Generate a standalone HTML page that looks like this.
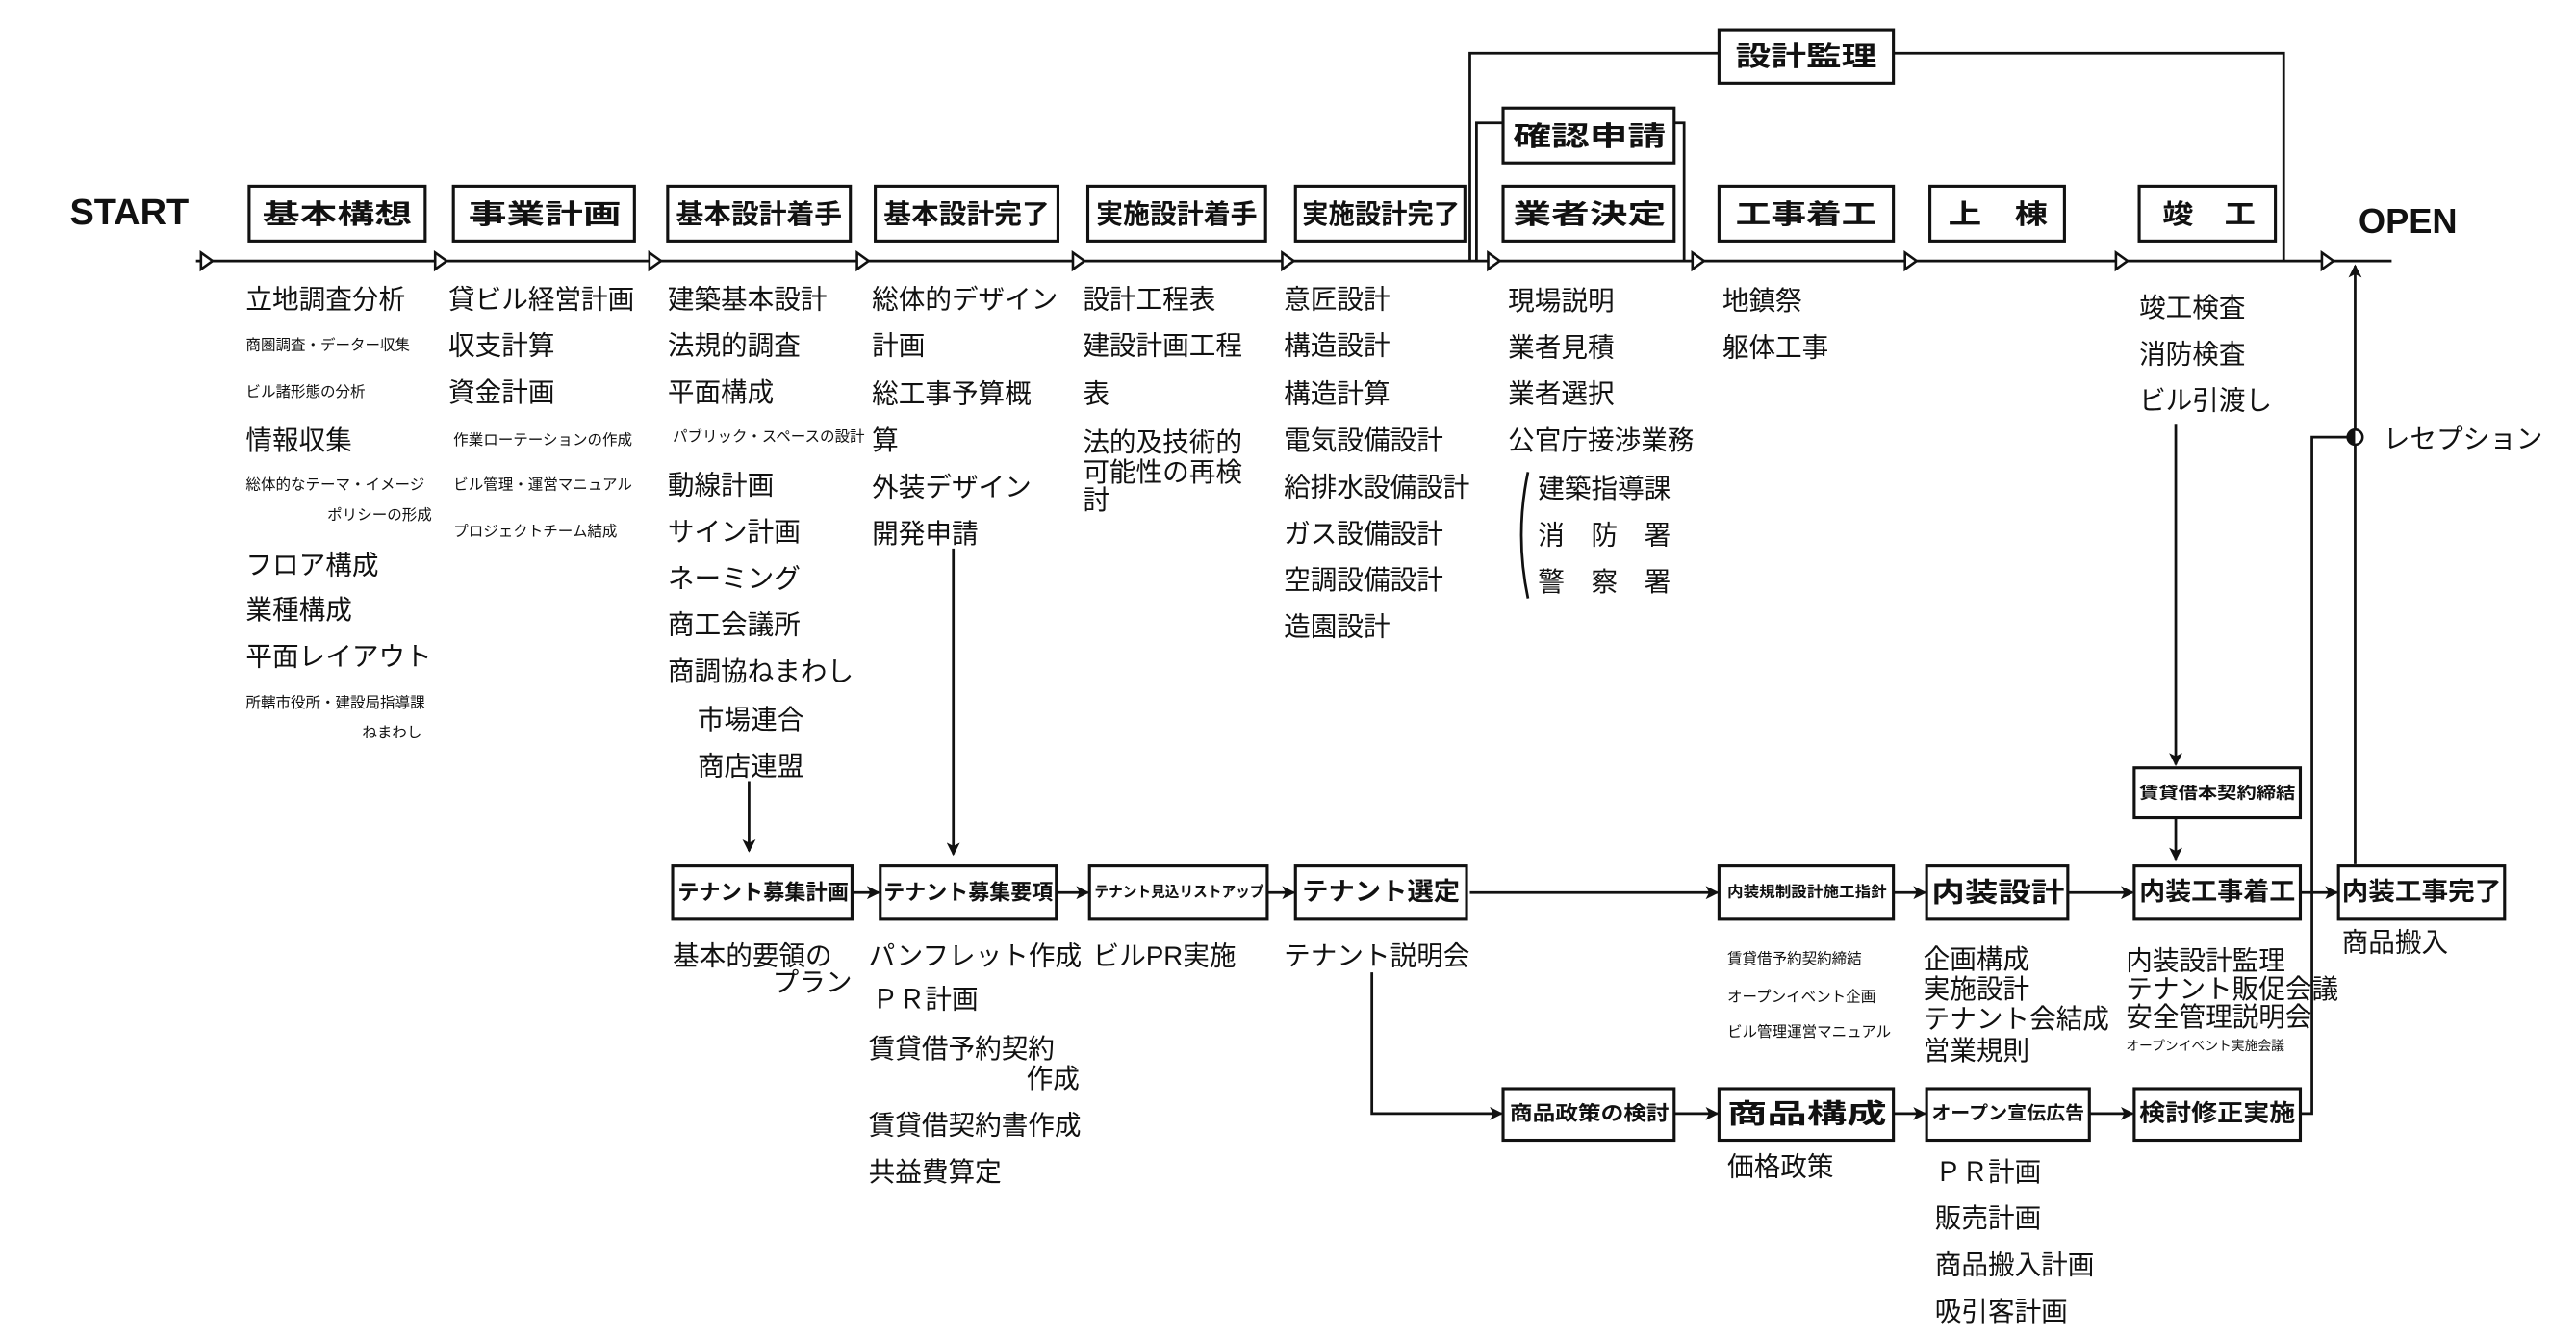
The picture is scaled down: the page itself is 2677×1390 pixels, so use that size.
<!DOCTYPE html>
<html><head><meta charset="utf-8"><style>
html,body{margin:0;padding:0;background:#fff;}
svg{display:block;}
text{font-family:"Liberation Sans","Noto Sans CJK JP",sans-serif;fill:#111;dominant-baseline:central;}
.b{font-weight:bold;}
.s{font-size:16px;}
.t{font-size:9px;}
</style></head><body>
<svg width="2677" height="1390" viewBox="0 0 1551 805" preserveAspectRatio="none" xmlns="http://www.w3.org/2000/svg">
<defs>
<marker id="ah" markerWidth="8" markerHeight="8" refX="7" refY="4" orient="auto" markerUnits="userSpaceOnUse">
<path d="M0,0 L8,4 L0,8 L2,4 Z" fill="#111"/>
</marker>
</defs>
<g stroke="#111" stroke-width="1.6" fill="none">
<!-- main line -->
<line x1="118" y1="157" x2="1440" y2="157"/>
<!-- 設計監理 loop -->
<polyline points="885,157 885,32 1035,32"/>
<polyline points="1140,32 1375,32 1375,157"/>
<polyline points="889,157 889,74 905,74"/>
<polyline points="1008,74 1014,74 1014,157"/>
<!-- verticals -->
<line x1="451" y1="470" x2="451" y2="512" marker-end="url(#ah)"/>
<line x1="574" y1="330" x2="574" y2="514" marker-end="url(#ah)"/>
<line x1="1310" y1="255" x2="1310" y2="460" marker-end="url(#ah)"/>
<line x1="1310" y1="492" x2="1310" y2="517" marker-end="url(#ah)"/>
<line x1="1418" y1="520" x2="1418" y2="160" marker-end="url(#ah)"/>
<polyline points="1385,670 1392,670 1392,263 1418,263"/>
<!-- bottom row 1 arrows -->
<line x1="513" y1="537" x2="529" y2="537" marker-end="url(#ah)"/>
<line x1="636" y1="537" x2="655" y2="537" marker-end="url(#ah)"/>
<line x1="763" y1="537" x2="779" y2="537" marker-end="url(#ah)"/>
<line x1="885" y1="537" x2="1034" y2="537" marker-end="url(#ah)"/>
<line x1="1140" y1="537" x2="1159" y2="537" marker-end="url(#ah)"/>
<line x1="1245" y1="537" x2="1284" y2="537" marker-end="url(#ah)"/>
<line x1="1385" y1="537" x2="1407" y2="537" marker-end="url(#ah)"/>
<!-- bottom row 2 -->
<polyline points="826,585 826,670 904,670" marker-end="url(#ah)"/>
<line x1="1008" y1="670" x2="1034" y2="670" marker-end="url(#ah)"/>
<line x1="1140" y1="670" x2="1159" y2="670" marker-end="url(#ah)"/>
<line x1="1258" y1="670" x2="1284" y2="670" marker-end="url(#ah)"/>
<!-- bracket -->
<path d="M920,284 Q912,322 920,360"/>
</g>
<!-- triangles -->
<g fill="#fff" stroke="#111" stroke-width="1.5">
<polygon points="121,152 128,157 121,162"/>
<polygon points="262,152 269,157 262,162"/>
<polygon points="391,152 398,157 391,162"/>
<polygon points="516,152 523,157 516,162"/>
<polygon points="646,152 653,157 646,162"/>
<polygon points="772,152 779,157 772,162"/>
<polygon points="896,152 903,157 896,162"/>
<polygon points="1019,152 1026,157 1019,162"/>
<polygon points="1147,152 1154,157 1147,162"/>
<polygon points="1274,152 1281,157 1274,162"/>
<polygon points="1398,152 1405,157 1398,162"/>
</g>
<circle cx="1418" cy="263" r="4.5" fill="#fff" stroke="#111" stroke-width="1.5"/>
<path d="M1418,258.5 A4.5,4.5 0 0 0 1418,267.5 Z" fill="#111"/>
<!-- boxes -->
<g fill="#fff" stroke="#111" stroke-width="1.8">
<rect x="150" y="112" width="106" height="33"/>
<rect x="273" y="112" width="109" height="33"/>
<rect x="402" y="112" width="110" height="33"/>
<rect x="527" y="112" width="110" height="33"/>
<rect x="655" y="112" width="107" height="33"/>
<rect x="780" y="112" width="102" height="33"/>
<rect x="905" y="112" width="103" height="33"/>
<rect x="1035" y="112" width="105" height="33"/>
<rect x="1162" y="112" width="81" height="33"/>
<rect x="1288" y="112" width="82" height="33"/>
<rect x="905" y="65" width="103" height="33"/>
<rect x="1035" y="18" width="105" height="32"/>
<rect x="1285" y="462" width="100" height="30"/>
<rect x="405" y="521" width="108" height="32"/>
<rect x="530" y="521" width="106" height="32"/>
<rect x="656" y="521" width="107" height="32"/>
<rect x="780" y="521" width="103" height="32"/>
<rect x="1035" y="521" width="105" height="32"/>
<rect x="1160" y="521" width="85" height="32"/>
<rect x="1285" y="521" width="100" height="32"/>
<rect x="1408" y="521" width="100" height="32"/>
<rect x="905" y="655" width="103" height="31"/>
<rect x="1035" y="655" width="105" height="31"/>
<rect x="1160" y="655" width="98" height="31"/>
<rect x="1285" y="655" width="100" height="31"/>
</g>
<!-- box labels -->
<g class="b" font-size="16">
<text x="158" y="129" textLength="90" lengthAdjust="spacingAndGlyphs">基本構想</text>
<text x="282" y="129" textLength="92" lengthAdjust="spacingAndGlyphs">事業計画</text>
<text x="407" y="129" textLength="100" lengthAdjust="spacingAndGlyphs">基本設計着手</text>
<text x="532" y="129" textLength="100" lengthAdjust="spacingAndGlyphs">基本設計完了</text>
<text x="660" y="129" textLength="97" lengthAdjust="spacingAndGlyphs">実施設計着手</text>
<text x="784" y="129" textLength="95" lengthAdjust="spacingAndGlyphs">実施設計完了</text>
<text x="911" y="129" textLength="92" lengthAdjust="spacingAndGlyphs">業者決定</text>
<text x="1045" y="129" textLength="85" lengthAdjust="spacingAndGlyphs">工事着工</text>
<text x="1173" y="129" textLength="60" lengthAdjust="spacingAndGlyphs">上　棟</text>
<text x="1302" y="129" textLength="56" lengthAdjust="spacingAndGlyphs">竣　工</text>
<text x="911" y="82" textLength="92" lengthAdjust="spacingAndGlyphs">確認申請</text>
<text x="1045" y="34" textLength="85" lengthAdjust="spacingAndGlyphs">設計監理</text>
<text x="1288" y="477" font-size="10" textLength="94" lengthAdjust="spacingAndGlyphs">賃貸借本契約締結</text>
<text x="408" y="537" font-size="13" textLength="103" lengthAdjust="spacingAndGlyphs">テナント募集計画</text>
<text x="532" y="537" font-size="13" textLength="102" lengthAdjust="spacingAndGlyphs">テナント募集要項</text>
<text x="659" y="537" font-size="9" textLength="102" lengthAdjust="spacingAndGlyphs">テナント見込リストアップ</text>
<text x="784" y="537" font-size="15" textLength="95" lengthAdjust="spacingAndGlyphs">テナント選定</text>
<text x="1040" y="537" font-size="9" textLength="96" lengthAdjust="spacingAndGlyphs">内装規制設計施工指針</text>
<text x="1163" y="537" font-size="16" textLength="80" lengthAdjust="spacingAndGlyphs">内装設計</text>
<text x="1288" y="537" font-size="15" textLength="94" lengthAdjust="spacingAndGlyphs">内装工事着工</text>
<text x="1410" y="537" font-size="15" textLength="96" lengthAdjust="spacingAndGlyphs">内装工事完了</text>
<text x="909" y="670" font-size="12" textLength="96" lengthAdjust="spacingAndGlyphs">商品政策の検討</text>
<text x="1040" y="670" font-size="16" textLength="96" lengthAdjust="spacingAndGlyphs">商品構成</text>
<text x="1163" y="670" font-size="11" textLength="92" lengthAdjust="spacingAndGlyphs">オープン宣伝広告</text>
<text x="1288" y="670" font-size="14" textLength="94" lengthAdjust="spacingAndGlyphs">検討修正実施</text>
</g>
<text x="42" y="128" class="b" font-size="22">START</text>
<text x="1420" y="133" class="b" font-size="21">OPEN</text>
<text x="1435" y="264" class="s">レセプション</text>
<!-- column 1 -->
<g class="s">
<text x="148" y="180">立地調査分析</text>
<text x="148" y="265">情報収集</text>
<text x="148" y="340">フロア構成</text>
<text x="148" y="367">業種構成</text>
<text x="148" y="395">平面レイアウト</text>
<text x="270" y="180">貸ビル経営計画</text>
<text x="270" y="208">収支計算</text>
<text x="270" y="236">資金計画</text>
<text x="402" y="180">建築基本設計</text>
<text x="402" y="208">法規的調査</text>
<text x="402" y="236">平面構成</text>
<text x="402" y="292">動線計画</text>
<text x="402" y="320">サイン計画</text>
<text x="402" y="348">ネーミング</text>
<text x="402" y="376">商工会議所</text>
<text x="402" y="404">商調協ねまわし</text>
<text x="420" y="433">市場連合</text>
<text x="420" y="461">商店連盟</text>
<text x="525" y="180">総体的デザイン</text>
<text x="525" y="208">計画</text>
<text x="525" y="237">総工事予算概</text>
<text x="525" y="265">算</text>
<text x="525" y="293">外装デザイン</text>
<text x="525" y="321">開発申請</text>
<text x="652" y="180">設計工程表</text>
<text x="652" y="208">建設計画工程</text>
<text x="652" y="237">表</text>
<text x="652" y="266">法的及技術的</text>
<text x="652" y="284">可能性の再検</text>
<text x="652" y="301">討</text>
<text x="773" y="180">意匠設計</text>
<text x="773" y="208">構造設計</text>
<text x="773" y="237">構造計算</text>
<text x="773" y="265">電気設備設計</text>
<text x="773" y="293">給排水設備設計</text>
<text x="773" y="321">ガス設備設計</text>
<text x="773" y="349">空調設備設計</text>
<text x="773" y="377">造園設計</text>
<text x="908" y="181">現場説明</text>
<text x="908" y="209">業者見積</text>
<text x="908" y="237">業者選択</text>
<text x="908" y="265">公官庁接渉業務</text>
<text x="926" y="294">建築指導課</text>
<text x="926" y="322">消　防　署</text>
<text x="926" y="350">警　察　署</text>
<text x="1037" y="181">地鎮祭</text>
<text x="1037" y="209">躯体工事</text>
<text x="1288" y="185">竣工検査</text>
<text x="1288" y="213">消防検査</text>
<text x="1288" y="241">ビル引渡し</text>
<text x="405" y="575">基本的要領の</text>
<text x="513" y="591" text-anchor="end">プラン</text>
<text x="523" y="575">パンフレット作成</text>
<text x="525" y="601">ＰＲ計画</text>
<text x="523" y="631">賃貸借予約契約</text>
<text x="650" y="649" text-anchor="end">作成</text>
<text x="523" y="677">賃貸借契約書作成</text>
<text x="523" y="705">共益費算定</text>
<text x="658" y="575">ビルPR実施</text>
<text x="773" y="575">テナント説明会</text>
<text x="1158" y="577">企画構成</text>
<text x="1158" y="595">実施設計</text>
<text x="1158" y="613">テナント会結成</text>
<text x="1158" y="632">営業規則</text>
<text x="1280" y="578">内装設計監理</text>
<text x="1280" y="595">テナント販促会議</text>
<text x="1280" y="612">安全管理説明会</text>
<text x="1410" y="567">商品搬入</text>
<text x="1040" y="702">価格政策</text>
<text x="1165" y="705">ＰＲ計画</text>
<text x="1165" y="733">販売計画</text>
<text x="1165" y="761">商品搬入計画</text>
<text x="1165" y="789">吸引客計画</text>
</g>
<g class="t">
<text x="148" y="208">商圏調査・データー収集</text>
<text x="148" y="236">ビル諸形態の分析</text>
<text x="148" y="292">総体的なテーマ・イメージ</text>
<text x="260" y="310" text-anchor="end">ポリシーの形成</text>
<text x="148" y="423">所轄市役所・建設局指導課</text>
<text x="254" y="441" text-anchor="end">ねまわし</text>
<text x="273" y="265">作業ローテーションの作成</text>
<text x="273" y="292">ビル管理・運営マニュアル</text>
<text x="273" y="320">プロジェクトチーム結成</text>
<text x="405" y="263">パブリック・スペースの設計</text>
<text x="1040" y="577">賃貸借予約契約締結</text>
<text x="1040" y="600">オープンイベント企画</text>
<text x="1040" y="621">ビル管理運営マニュアル</text>
<text x="1280" y="629" font-size="8">オープンイベント実施会議</text>
</g>
</svg>
</body></html>
